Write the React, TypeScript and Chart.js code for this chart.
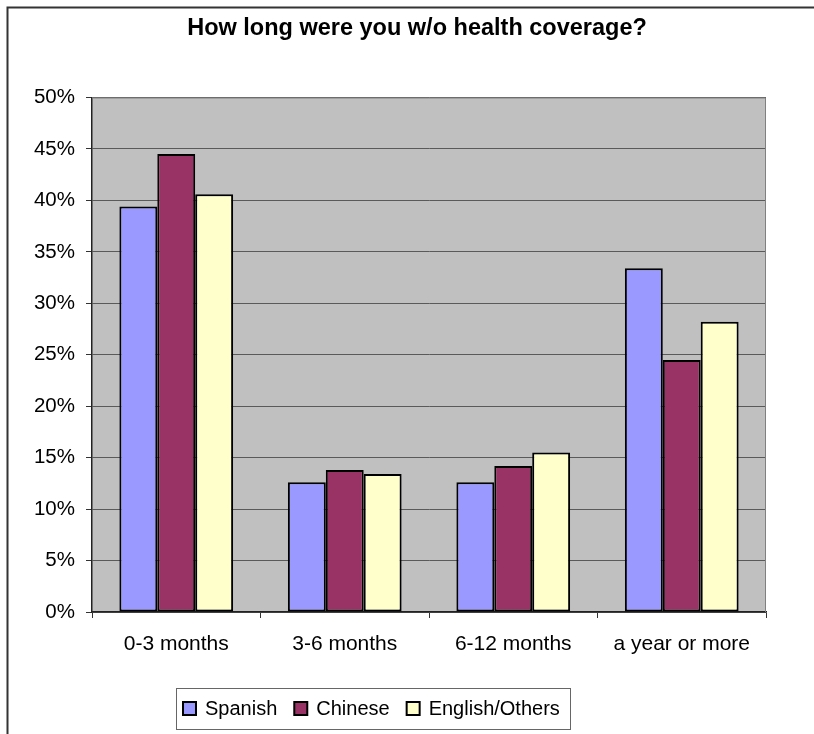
import React, { useEffect, useRef } from "react";
import { Chart, registerables } from "chart.js";

Chart.register(...registerables);

const TITLE = "How long were you w/o health coverage?";
const categories = ["0-3 months", "3-6 months", "6-12 months", "a year or more"];
const seriesNames = ["Spanish", "Chinese", "English/Others"];
const spanish = [39.4, 12.6, 12.6, 33.4];
const chinese = [44.5, 13.8, 14.2, 24.5];
const english = [40.6, 13.4, 15.5, 28.2];
const seriesColors = ["#9999FF", "#993366", "#FFFFCC"];
const yTicks = [0, 5, 10, 15, 20, 25, 30, 35, 40, 45, 50];

const FONT = "'Liberation Sans', Arial, sans-serif";

const decorPlugin = {
  id: "decor",
  beforeDraw(chart: any) {
    const { ctx, chartArea } = chart;
    ctx.save();
    ctx.fillStyle = "#ffffff";
    ctx.fillRect(0, 0, chart.width, chart.height);
    ctx.fillStyle = "#C0C0C0";
    ctx.fillRect(chartArea.left, chartArea.top, chartArea.right - chartArea.left, chartArea.bottom - chartArea.top);
    ctx.restore();
  },
  afterDraw(chart: any) {
    const { ctx, chartArea } = chart;
    ctx.save();
    ctx.strokeStyle = "#808080";
    ctx.lineWidth = 1;
    ctx.beginPath();
    ctx.moveTo(chartArea.left, chartArea.top + 0.5);
    ctx.lineTo(chartArea.right - 0.5, chartArea.top + 0.5);
    ctx.lineTo(chartArea.right - 0.5, chartArea.bottom);
    ctx.stroke();
    // outer frame
    ctx.strokeStyle = "#333333";
    ctx.lineWidth = 2;
    ctx.strokeRect(7.5, 7.5, chart.width + 20, chart.height + 20);
    // title
    ctx.fillStyle = "#000";
    ctx.font = `bold 23.5px ${FONT}`;
    ctx.textAlign = "center";
    ctx.textBaseline = "middle";
    ctx.fillText(TITLE, 417, 29);
    // legend
    const lx = 176, ly = 688, lw = 394, lh = 41;
    ctx.strokeStyle = "#666666";
    ctx.lineWidth = 1;
    ctx.strokeRect(lx + 0.5, ly + 0.5, lw, lh);
    ctx.font = `20px ${FONT}`;
    ctx.textAlign = "left";
    const cy = ly + lh / 2;
    let x = 183;
    chart.data.datasets.forEach((ds: any) => {
      ctx.fillStyle = ds.backgroundColor;
      ctx.fillRect(x, cy - 6.5, 13, 13);
      ctx.strokeStyle = "#000";
      ctx.lineWidth = 2;
      ctx.strokeRect(x, cy - 6.5, 13, 13);
      ctx.fillStyle = "#000";
      ctx.fillText(ds.label, x + 22, cy + 1);
      x += 22 + ctx.measureText(ds.label).width + 17;
    });
    ctx.restore();
  },
};

export default function App() {
  const ref = useRef<HTMLCanvasElement | null>(null);
  useEffect(() => {
    if (!ref.current) return;
    const values = [spanish, chinese, english];
    const chart = new Chart(ref.current, {
      type: "bar",
      data: {
        labels: categories,
        datasets: seriesNames.map((name, i) => ({
          label: name,
          data: values[i],
          backgroundColor: seriesColors[i],
          borderColor: "#000000",
          borderWidth: 2,
          borderSkipped: false,
          categoryPercentage: 0.675,
          barPercentage: 1.0,
        })),
      },
      options: {
        animation: false,
        responsive: false,
        devicePixelRatio: 1,
        layout: { padding: { left: 0, top: 97.5, right: 48, bottom: 0 } },
        plugins: {
          legend: { display: false },
          title: { display: false },
          tooltip: { enabled: false },
        },
        scales: {
          x: {
            grid: {
              display: true,
              drawOnChartArea: false,
              drawTicks: true,
              tickLength: 6,
              color: "#333333",
              offset: true,
            },
            border: { display: true, color: "#222222", width: 1.5 },
            ticks: {
              color: "#000",
              font: { family: FONT, size: 21 },
              padding: 14,
              maxRotation: 0,
            },
            afterFit(scale: any) {
              scale.height = 122;
            },
          },
          y: {
            min: 0,
            max: 50,
            afterBuildTicks(scale: any) {
              scale.ticks = yTicks.map((v) => ({ value: v }));
            },
            grid: {
              color: "#5a5a5a",
              lineWidth: 1,
              drawTicks: true,
              tickLength: 6,
              tickColor: "#333333",
            },
            border: { display: true, color: "#222222", width: 1.5 },
            ticks: {
              color: "#000",
              font: { family: FONT, size: 20.5 },
              padding: 11,
              callback: (v: any) => `${v}%`,
            },
            afterFit(scale: any) {
              scale.width = 92;
            },
          },
        },
      },
      plugins: [decorPlugin],
    });
    return () => chart.destroy();
  }, []);
  return (
    <div style={{ position: "absolute", left: 0, top: 0, width: 814, height: 734 }}>
      <canvas ref={ref} width={814} height={734} style={{ width: 814, height: 734, display: "block" }} />
    </div>
  );
}
